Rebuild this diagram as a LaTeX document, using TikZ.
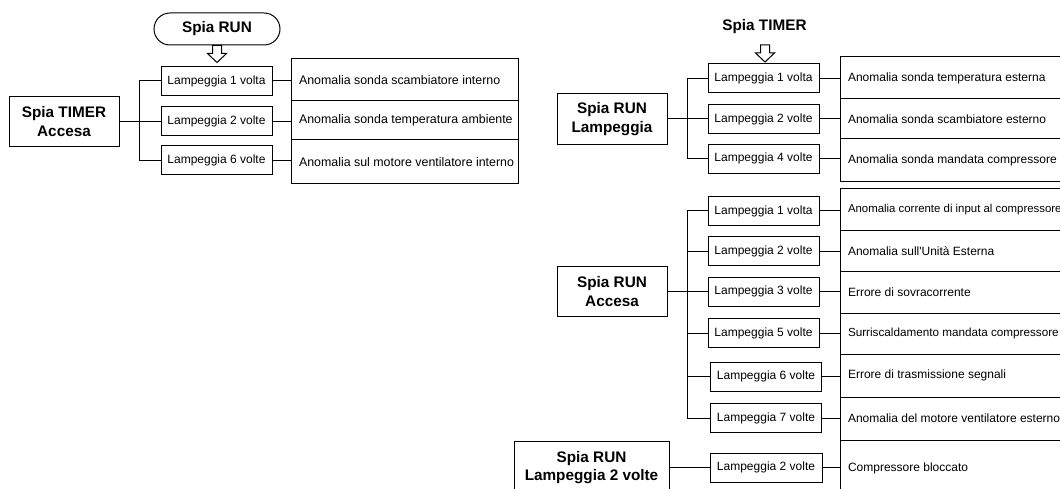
\documentclass[tikz,border=0pt]{standalone}
\usepackage{fontspec}
\newfontfamily\lib{Liberation Sans}
% description text: set flush left on one line inside the box
\newcommand\dtext[1]{\makebox[211pt][l]{#1}}
\begin{document}
\begin{tikzpicture}[x=1pt,y=-1pt,line width=1pt,
  every node/.style={font=\lib},
  lamp/.style={draw, minimum width=111pt, minimum height=29pt, inner sep=0pt,
    font=\lib\fontsize{12}{14}\selectfont},
  desc/.style={draw, inner xsep=8pt, inner ysep=0pt,
    font=\lib\fontsize{12}{14}\selectfont},
  descwide/.style={desc, font=\lib\fontsize{12.4}{14}\selectfont},
  descnarrow/.style={desc, font=\lib\fontsize{#1}{14}\selectfont},
  source/.style={draw, inner sep=0pt, align=center,
    font=\lib\bfseries\fontsize{15.3}{18.4}\selectfont},
  title/.style={inner sep=0pt, font=\lib\bfseries\fontsize{15.3}{18.4}\selectfont},
  hollowarrow/.style={draw, fill=white, line width=1pt, line join=miter}
]
\useasboundingbox (0,0) rectangle (1060,489);
\clip (0,0) rectangle (1060,489);

% ---------------- Spia TIMER accesa ----------------
\node[title, draw, minimum width=126pt, minimum height=32pt, rounded corners=16pt]
  (runtop) at (217,29) {Spia RUN};
\draw[hollowarrow] (runtop.south) ++(-4.5,0) -- ++(9,0) -- ++(0,8) -- ++(5,0)
  -- ++(-9.5,9) -- ++(-9.5,-9) -- ++(5,0) -- cycle;

\node[source, minimum width=110pt, minimum height=50pt] (srcA) at (64,121.5) {Spia TIMER\\Accesa};
\node[lamp] (La1) at (216.5,81)    {Lampeggia 1 volta};
\node[lamp] (La2) at (216.5,121.5) {Lampeggia 2 volte};
\node[lamp] (La3) at (216.5,160.5) {Lampeggia 6 volte};
\node[descwide, minimum height=42pt] (Da1) at (404.5,80)    {\dtext{Anomalia sonda scambiatore interno}};
\node[descwide, minimum height=39pt] (Da2) at (404.5,120.5) {\dtext{Anomalia sonda temperatura ambiente}};
\node[descwide, minimum height=44pt] (Da3) at (404.5,162)   {\dtext{Anomalia sul motore ventilatore interno}};

\coordinate (ta) at (139,0);
\draw (srcA.east) -- (srcA.east -| ta);
\draw (La1.west) -- (La1.west -| ta) -- (La3.west -| ta) -- (La3.west);
\draw (La2.west) -- (La2.west -| ta);
\foreach \i in {1,2,3} \draw (La\i.east) -- (La\i.east -| Da\i.west);

% ---------------- Spia RUN lampeggia ----------------
\node[title] (timertop) at (764.5,27) {Spia TIMER};
\draw[hollowarrow] (765,45) ++(-4.5,0) -- ++(9,0) -- ++(0,8) -- ++(5,0)
  -- ++(-9.5,9) -- ++(-9.5,-9) -- ++(5,0) -- cycle;

\node[source, minimum width=110pt, minimum height=51pt] (srcB) at (612,119) {Spia RUN\\Lampeggia};
\node[lamp] (Lb1) at (763.5,78.5) {Lampeggia 1 volta};
\node[lamp] (Lb2) at (763.5,119)  {Lampeggia 2 volte};
\node[lamp] (Lb3) at (763.5,158.7) {Lampeggia 4 volte};
\node[desc, minimum height=42pt] (Db1) at (953.5,78)    {\dtext{Anomalia sonda temperatura esterna}};
\node[desc, minimum height=40pt] (Db2) at (953.5,119)   {\dtext{Anomalia sonda scambiatore esterno}};
\node[desc, minimum height=43pt] (Db3) at (953.5,160.5) {\dtext{Anomalia sonda mandata compressore}};

\coordinate (tb) at (687,0);
\draw (srcB.east) -- (srcB.east -| tb);
\draw (Lb1.west) -- (Lb1.west -| tb) -- (Lb3.west -| tb) -- (Lb3.west);
\draw (Lb2.west) -- (Lb2.west -| tb);
\foreach \i in {1,2,3} \draw (Lb\i.east) -- (Lb\i.east -| Db\i.west);

% ---------------- Spia RUN accesa ----------------
\node[source, minimum width=110pt, minimum height=50pt] (srcC) at (612,291.5) {Spia RUN\\Accesa};
\node[lamp] (Lc1) at (763.5,211)   {Lampeggia 1 volta};
\node[lamp] (Lc2) at (763.5,251)   {Lampeggia 2 volte};
\node[lamp] (Lc3) at (763.5,291.5) {Lampeggia 3 volte};
\node[lamp] (Lc5) at (763.5,333)   {Lampeggia 5 volte};
\node[lamp] (Lc6) at (766,376.5)   {Lampeggia 6 volte};
\node[lamp] (Lc7) at (766,418)     {Lampeggia 7 volte};
\node[descnarrow=11.4, minimum height=42pt] (Dc1) at (953.5,210)   {\dtext{Anomalia corrente di input al compressore}};
\node[desc, minimum height=40pt] (Dc2) at (953.5,251)   {\dtext{Anomalia sull'Unità Esterna}};
\node[desc, minimum height=42pt] (Dc3) at (953.5,292)   {\dtext{Errore di sovracorrente}};
\node[descnarrow=11.7, minimum height=41pt] (Dc5) at (953.5,333.5) {\dtext{Surriscaldamento mandata compressore}};
\node[desc, minimum height=43pt] (Dc6) at (953.5,375.5) {\dtext{Errore di trasmissione segnali}};
\node[desc, minimum height=43pt] (Dc7) at (953.5,418.5) {\dtext{Anomalia del motore ventilatore esterno}};

\coordinate (tc) at (687,0);
\draw (srcC.east) -- (srcC.east -| tc);
\draw (Lc1.west) -- (Lc1.west -| tc) -- (Lc7.west -| tc) -- (Lc7.west);
\foreach \i in {2,3,5,6} \draw (Lc\i.west) -- (Lc\i.west -| tc);
\foreach \i in {1,2,3,5,6,7} \draw (Lc\i.east) -- (Lc\i.east -| Dc\i.west);

% ---------------- Spia RUN lampeggia 2 volte ----------------
\node[source, minimum width=155pt, minimum height=52pt] (srcD) at (591.5,467.5) {Spia RUN\\Lampeggia 2 volte};
\node[lamp, minimum width=112pt] (Ld2) at (766,467.5) {Lampeggia 2 volte};
\node[desc, minimum height=56pt] (Dd2) at (953.5,468) {\dtext{Compressore bloccato}};
\draw (srcD.east) -- (Ld2.west);
\draw (Ld2.east) -- (Ld2.east -| Dd2.west);
\end{tikzpicture}
\end{document}
